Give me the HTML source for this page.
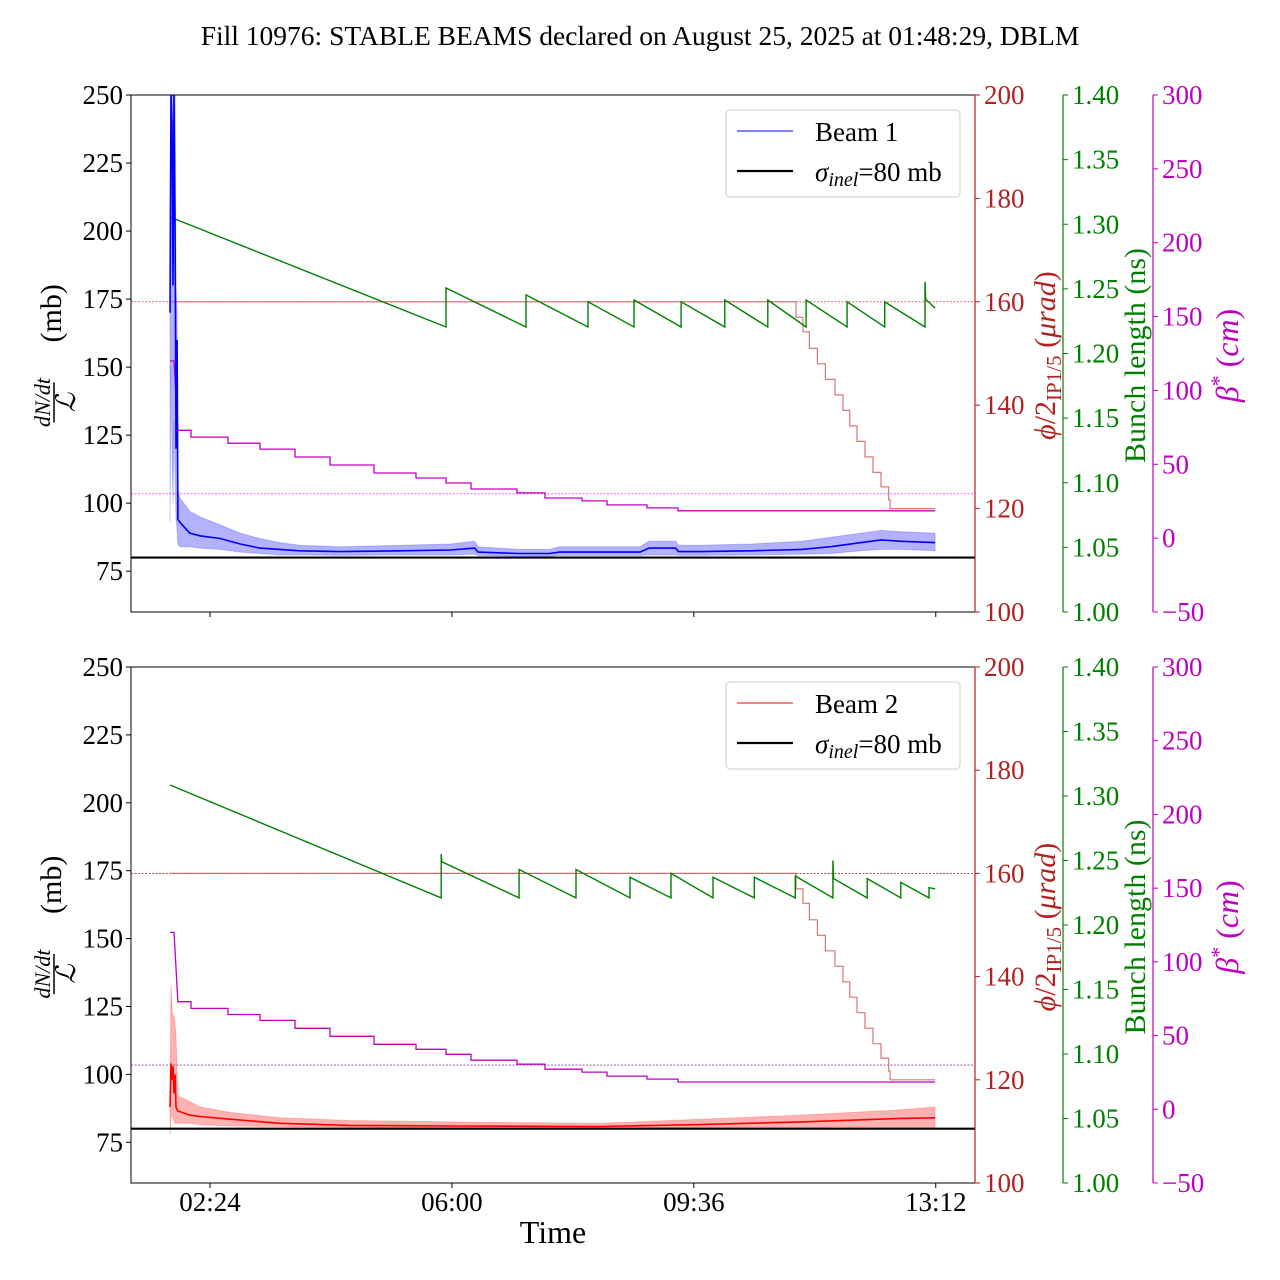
<!DOCTYPE html>
<html><head><meta charset="utf-8">
<style>
html,body{margin:0;padding:0;background:#fff;}
svg{display:block;font-family:"Liberation Serif",serif;}
</style></head>
<body>
<svg id="chart" width="1280" height="1280" viewBox="0 0 1280 1280" xmlns="http://www.w3.org/2000/svg">
<rect x="0" y="0" width="1280" height="1280" fill="#fff"/>
<text x="640" y="45" font-size="27.5" text-anchor="middle">Fill 10976: STABLE BEAMS declared on August 25, 2025 at 01:48:29, DBLM</text>
</svg>
<script>
// ---- data (time in hours of day) ----
const xTickLabels = ["02:24","06:00","09:36","13:12"];
const xTickHours = [2.4, 6.0, 9.6, 13.2];
const leftTicks = [75,100,125,150,175,200,225,250];
const redTicks = [100,120,140,160,180,200];
const greenTicks = [1.00,1.05,1.10,1.15,1.20,1.25,1.30,1.35,1.40];
const magTicks = [-50,0,50,100,150,200,250,300];

// Beam 1 dN/dt / L (mb)
const b1Times = [1.805,1.82,1.835,1.85,1.864,1.88,1.894,1.91,1.923,1.95,2.1,2.25,2.55,2.85,3.14,3.44,3.74,4.33,5.23,5.97,6.34,6.39,7.0,7.45,7.6,8.8,8.93,9.33,9.37,9.7,10.45,11.2,11.64,12.09,12.39,12.69,13.19];
const b1Mean  = [170,250,240,180,250,200,120,160,94,93,89,88,87,85,83.5,83,82.5,82.2,82.5,82.8,83.5,82,81.5,81.5,82,82,83.5,83.5,82.2,82.2,82.5,83,84,85.5,86.5,86,85.5];
const b1High  = [200,250,250,250,250,250,180,170,105,102,97,95,92,89,87,85.5,84.5,84,84.5,85,86,84,83,83,84,84,86,86,84.5,84.5,85,86,87.5,89,90,89.5,89];
const b1Low   = [93,150,120,100,130,110,95,90,85,84,84,83.5,83,82,81.5,81,81,80.8,81,81,81.2,80.8,80.5,80.5,80.8,80.8,81,81,80.8,80.8,81,81.2,81.5,82.5,83,83,82.5];

// Beam 2 dN/dt / L (mb)
const b2Times = [1.805,1.82,1.835,1.85,1.864,1.88,1.894,1.923,2.1,2.25,2.7,3.44,4.48,5.97,8.2,9.7,11.2,12.69,13.19];
const b2Mean  = [88,104,98,103,93,100,88,86.5,85,84.5,83.5,82,81.2,81,80.8,81.5,82.5,83.8,84];
const b2High  = [95,133,125,120,122,118,115,92,90,88,86,84,83,82.5,82,83.5,85,87,88];
const b2Low   = [78,84,85,84,83,82,82,82,82,81.5,81,80.8,80.5,80.3,80.2,80.5,80.5,80.5,80.5];

const sigmaInel = 80;

// Crossing angle (urad) step profile
const xingTimes = [1.805,11.12,11.224,11.32,11.439,11.557,11.70,11.82,11.92,12.028,12.147,12.266,12.385,12.50,12.52,13.19];
const xingVals  = [160,157,154.2,151,148,145,142,139,136,133,130,127,124.2,121.7,120,120];
const xingRef = 160;

// Beta* (cm) step profile
const betaTimes = [1.805,1.864,1.923,2.117,2.668,3.144,3.665,4.186,4.84,5.466,5.912,6.284,6.968,7.385,7.936,8.308,8.903,9.364,13.19];
const betaVals  = [120,120,73,68.4,64.3,60.3,54.9,49.5,44.1,40.7,37.3,33.3,30.6,27.2,25.2,22.5,20.5,18.5,18.5];
const betaRef = 30;

// Bunch length (ns) sawtooth vertices
const bl1Times = [1.805,5.912,5.912,7.102,7.102,8.025,8.025,8.71,8.71,9.41,9.41,10.06,10.06,10.70,10.70,11.27,11.27,11.88,11.88,12.44,12.44,13.04,13.04,13.05,13.19];
const bl1Vals  = [1.3056,1.2205,1.2507,1.2205,1.2453,1.2205,1.240,1.2205,1.2414,1.2205,1.240,1.2205,1.2414,1.2205,1.2414,1.2205,1.2414,1.2205,1.240,1.2205,1.240,1.2205,1.2555,1.242,1.235];
const bl2Times = [1.805,5.84,5.84,5.85,7.0,7.0,7.846,7.846,8.65,8.65,9.26,9.26,9.885,9.885,10.5,10.5,11.11,11.11,11.67,11.67,11.68,12.18,12.18,12.68,12.68,13.10,13.10,13.19];
const bl2Vals  = [1.3085,1.221,1.255,1.249,1.221,1.243,1.221,1.243,1.221,1.237,1.221,1.240,1.221,1.237,1.221,1.237,1.221,1.238,1.221,1.250,1.236,1.221,1.236,1.221,1.233,1.221,1.229,1.228];

// ---- drawing ----
const NS = "http://www.w3.org/2000/svg";
const svg = document.getElementById('chart');
const X0 = 131, X1 = 975;
function xScale(t){ return 210 + (t - 2.4) * 67.2; }
function mk(tag, attrs, parent){
  const e = document.createElementNS(NS, tag);
  for (const k in attrs) e.setAttribute(k, attrs[k]);
  (parent || svg).appendChild(e);
  return e;
}
function fmtNum(v, d){ const s = v.toFixed(d); return s.startsWith('-') ? '\u2212' + s.slice(1) : s; }

const RED = '#b22222', GREEN = '#008000', MAG = '#c000c0';
const FS = 27;

function panel(y0, y1, beam){
  const g = mk('g', {});
  
  
  const H = y1 - y0;
  const yL = v => y1 - (v - 60) / 190 * H;
  const yR = v => y1 - (v - 100) / 100 * H;
  const yG = v => y1 - (v - 1.0) / 0.4 * H;
  const yM = v => y1 - (v + 50) / 350 * H;
  const clip = 'clip' + beam;
  const cp = mk('clipPath', {id: clip}, g);
  mk('rect', {x: X0, y: y0, width: X1 - X0, height: H}, cp);
  const plot = mk('g', {'clip-path': 'url(#' + clip + ')'}, g);

  const refX = mk('line', {x1: X0, x2: X1, y1: yR(xingRef), y2: yR(xingRef), stroke: beam === 1 ? '#e05050' : '#a04040', 'stroke-width': 0.9, 'stroke-dasharray': '2,1.5'}, plot);
  
  
  const refB = mk('line', {x1: X0, x2: X1, y1: yM(betaRef), y2: yM(betaRef), stroke: beam === 1 ? '#ff40ff' : '#a040a0', 'stroke-width': 0.9, 'stroke-dasharray': '2,1.5'}, plot);
  
  

  const times = beam === 1 ? b1Times : b2Times;
  const mean = beam === 1 ? b1Mean : b2Mean;
  const hi = beam === 1 ? b1High : b2High;
  const lo = beam === 1 ? b1Low : b2Low;
  const col = beam === 1 ? '#0000ff' : '#ff0000';
  let pts = [];
  for (let i = 0; i < times.length; i++) pts.push(xScale(times[i]).toFixed(1) + ',' + yL(hi[i]).toFixed(1));
  for (let i = times.length - 1; i >= 0; i--) pts.push(xScale(times[i]).toFixed(1) + ',' + yL(lo[i]).toFixed(1));
  const band = mk('polygon', {points: pts.join(' '), fill: col, 'fill-opacity': 0.3, stroke: col, 'stroke-opacity': 0.2}, plot);
  
  

  let sp = [];
  for (let i = 0; i < xingTimes.length; i++) {
    if (i > 0) sp.push(xScale(xingTimes[i]).toFixed(1) + ',' + yR(xingVals[i - 1]).toFixed(1));
    sp.push(xScale(xingTimes[i]).toFixed(1) + ',' + yR(xingVals[i]).toFixed(1));
  }
  const xl = mk('polyline', {points: sp.join(' '), fill: 'none', stroke: '#d06060', 'stroke-opacity': 0.85, 'stroke-width': 1.2}, plot);
  
  

  let bp = [];
  for (let i = 0; i < betaTimes.length; i++) {
    if (i > 2) bp.push(xScale(betaTimes[i]).toFixed(1) + ',' + yM(betaVals[i - 1]).toFixed(1));
    bp.push(xScale(betaTimes[i]).toFixed(1) + ',' + yM(betaVals[i]).toFixed(1));
  }
  const bl = mk('polyline', {points: bp.join(' '), fill: 'none', stroke: MAG, 'stroke-width': 1.3}, plot);
  
  

  const gt = beam === 1 ? bl1Times : bl2Times;
  const gv = beam === 1 ? bl1Vals : bl2Vals;
  const gp = gt.map((t, i) => xScale(t).toFixed(1) + ',' + yG(gv[i]).toFixed(1)).join(' ');
  const gl = mk('polyline', {points: gp, fill: 'none', stroke: GREEN, 'stroke-width': 1.4}, plot);
  
  

  const mp = times.map((t, i) => xScale(t).toFixed(1) + ',' + yL(mean[i]).toFixed(1)).join(' ');
  const ml = mk('polyline', {points: mp, fill: 'none', stroke: col, 'stroke-width': 1.6}, plot);
  
  

  const sl = mk('line', {x1: X0, x2: X1, y1: yL(sigmaInel), y2: yL(sigmaInel), stroke: '#000', 'stroke-width': 2.2}, plot);
  
  

  const fr = mk('rect', {x: X0, y: y0, width: X1 - X0, height: H, fill: 'none', stroke: '#000', 'stroke-width': 1}, g);
  
  

  leftTicks.forEach(v => {
    const y = yL(v);
    mk('line', {x1: X0 - 5, x2: X0, y1: y, y2: y, stroke: '#000'}, g);
    const t = mk('text', {x: X0 - 8, y: y + 9, 'font-size': FS, 'text-anchor': 'end'}, g);
    t.textContent = v;
    
    
  });
  xTickHours.forEach((h, i) => {
    const x = xScale(h);
    mk('line', {x1: x, x2: x, y1: y1, y2: y1 + 5, stroke: '#000'}, g);
    if (beam === 2) {
      const t = mk('text', {x: x, y: y1 + 28, 'font-size': FS, 'text-anchor': 'middle'}, g);
      t.textContent = xTickLabels[i];
      
      
    }
  });
  function rightAxis(xs, ticks, sc, color, dec, name){
    const a = mk('g', {}, g);
    
    
    mk('line', {x1: xs, x2: xs, y1: y0, y2: y1, stroke: color, 'stroke-width': 1.2}, a);
    ticks.forEach(v => {
      const y = sc(v);
      mk('line', {x1: xs, x2: xs + 5, y1: y, y2: y, stroke: color}, a);
      const t = mk('text', {x: xs + 9, y: y + 9, 'font-size': FS, fill: color}, a);
      t.textContent = fmtNum(v, dec);
    });
  }
  rightAxis(975, redTicks, yR, RED, 0, 'crossing-angle-axis');
  rightAxis(1063, greenTicks, yG, GREEN, 2, 'bunch-length-axis');
  rightAxis(1153, magTicks, yM, MAG, 0, 'beta-star-axis');

  const cy = (y0 + y1) / 2 + 2;
  const yl = mk('g', {transform: 'translate(55,' + cy + ') rotate(-90)'}, g);
  
  
  const num = mk('text', {x: -47, y: -5, 'font-size': 22, 'font-style': 'italic', 'text-anchor': 'middle'}, yl);
  num.textContent = 'dN/dt';
  mk('line', {x1: -67, x2: -27, y1: -1, y2: -1, stroke: '#000', 'stroke-width': 1.5}, yl);
  const den = mk('text', {x: -47, y: 20, 'font-size': 27, 'font-style': 'italic', 'text-anchor': 'middle'}, yl);
  den.textContent = 'ℒ';
  const mb = mk('text', {x: 13, y: 6, 'font-size': 30}, yl);
  mb.textContent = '(mb)';

  const rt = mk('text', {transform: 'translate(1055,' + cy + ') rotate(-90)', 'font-size': 30, fill: RED, 'text-anchor': 'middle'}, g);
  
  
  rt.innerHTML = '<tspan font-style="italic">ϕ</tspan>/2<tspan font-size="21" dy="6">IP1/5</tspan><tspan dy="-6"> (</tspan><tspan font-style="italic">μrad</tspan>)';
  const gtl = mk('text', {transform: 'translate(1145,' + cy + ') rotate(-90)', 'font-size': 30, fill: GREEN, 'text-anchor': 'middle'}, g);
  
  
  gtl.textContent = 'Bunch length (ns)';
  const mtl = mk('text', {transform: 'translate(1238,' + cy + ') rotate(-90)', 'font-size': 32, fill: MAG, 'text-anchor': 'middle'}, g);
  
  
  mtl.innerHTML = '<tspan font-style="italic">β</tspan><tspan font-size="22" dy="-12">*</tspan><tspan dy="12"> (</tspan><tspan font-style="italic">cm</tspan>)';

  const lg = mk('g', {}, g);
  
  
  const ly = y0 + 15;
  mk('rect', {x: 726, y: ly, width: 234, height: 87, rx: 4, fill: '#fff', 'fill-opacity': 0.85, stroke: '#ccc'}, lg);
  mk('line', {x1: 737, x2: 793, y1: ly + 21, y2: ly + 21, stroke: col, 'stroke-width': 1}, lg);
  const l1 = mk('text', {x: 815, y: ly + 31, 'font-size': 27}, lg);
  l1.textContent = 'Beam ' + beam;
  
  
  mk('line', {x1: 737, x2: 793, y1: ly + 61, y2: ly + 61, stroke: '#000', 'stroke-width': 2.2}, lg);
  const l2 = mk('text', {x: 815, y: ly + 71, 'font-size': 27}, lg);
  l2.innerHTML = '<tspan font-style="italic">σ</tspan><tspan font-style="italic" font-size="20" dy="5">inel</tspan><tspan dy="-5">=80 mb</tspan>';
  
  
}

panel(95, 612, 1);
panel(667, 1183, 2);

const xt = mk('text', {x: 553, y: 1243, 'font-size': 32, 'text-anchor': 'middle'});
xt.textContent = 'Time';


</script>
</body></html>
